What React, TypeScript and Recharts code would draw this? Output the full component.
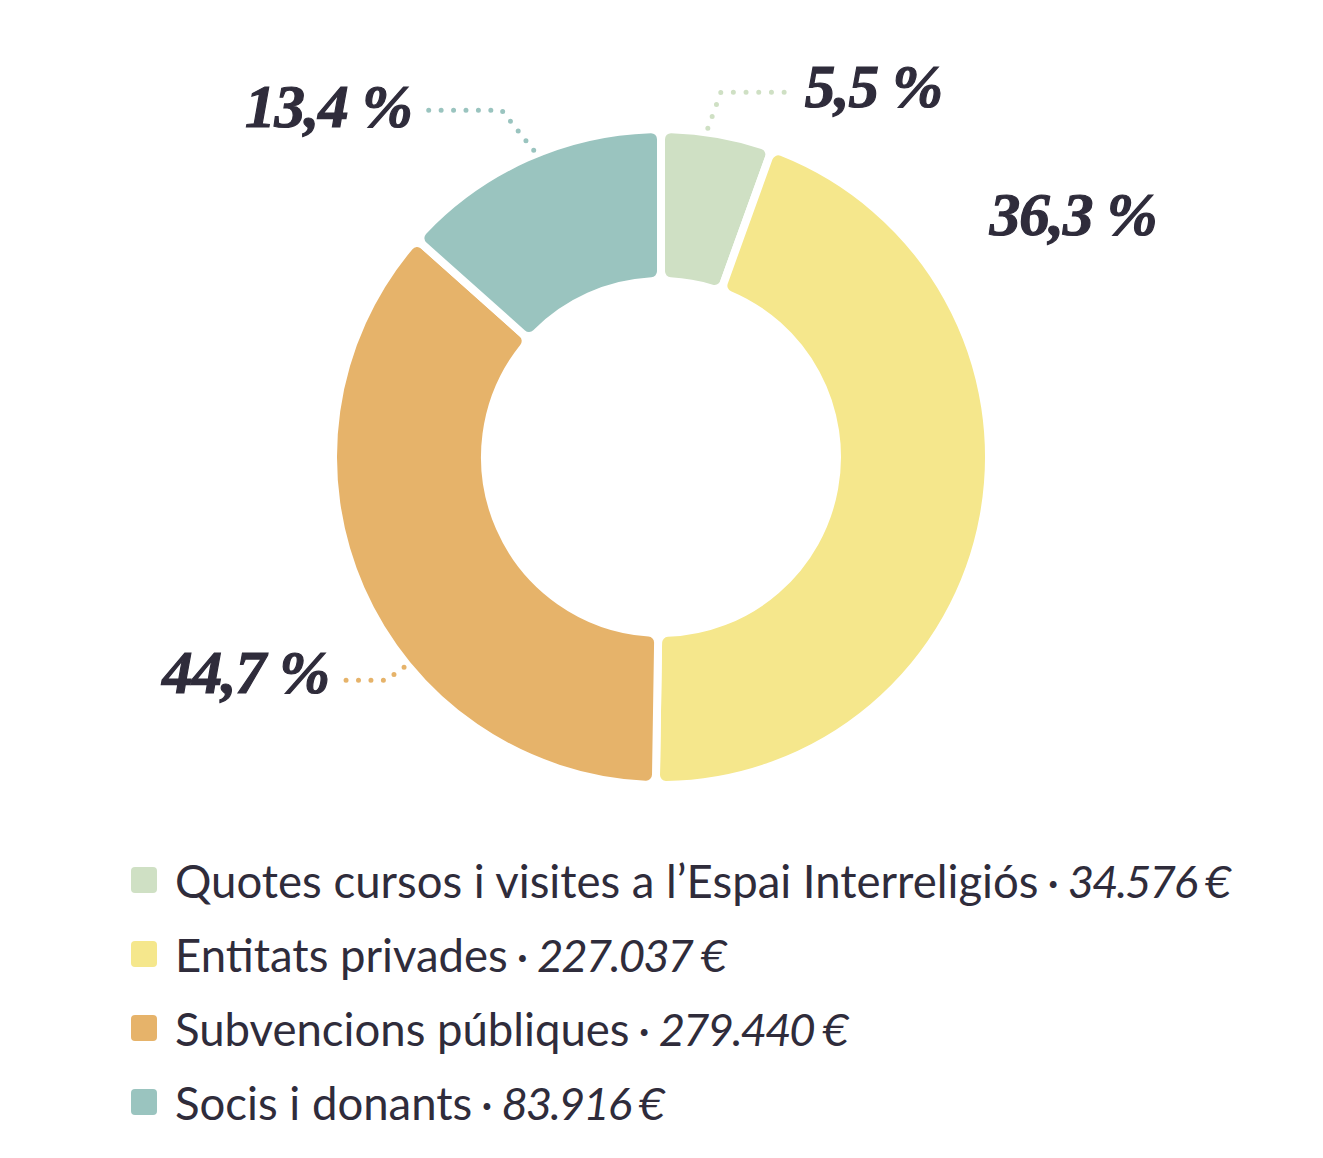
import { Cell, Legend, Pie, PieChart } from "recharts";

const categories = [
  "Quotes cursos i visites a l’Espai Interreligiós",
  "Entitats privades",
  "Subvencions públiques",
  "Socis i donants",
];
const amountLabels = ["34.576 €", "227.037 €", "279.440 €", "83.916 €"];
const percentLabels = ["5,5 %", "36,3 %", "44,7 %", "13,4 %"];
// arc sizes as drawn in the picture (yellow arc is the larger one there)
const arcShares = [5.5, 44.7, 36.3, 13.4];
const colors = ["#cfe0c4", "#f5e78c", "#e6b36a", "#9ac4bf"];

const TEXT = "#2f2c3b";
const RAD = Math.PI / 180;

// leader line layout per slice (relative to the point on the ring edge)
const leaders = [
  { nudge: 1.8, elbow: [13, -36], run: 76, textDx: 8, textDy: 15, anchor: "start", line: true },
  { nudge: 0, elbow: [0, 0], run: 0, textDx: 10, textDy: -280, anchor: "start", line: false },
  { nudge: 15.6, elbow: [-18, 13], run: -40, textDx: -17, textDy: 13, anchor: "end", line: true },
  { nudge: -1.6, elbow: [-32, -40], run: -73, textDx: -17, textDy: 17, anchor: "end", line: true },
];

const data = categories.map((name, i) => ({
  name,
  value: arcShares[i],
  amount: amountLabels[i],
  color: colors[i],
}));

const renderLabel = (props: any) => {
  const { cx, cy, midAngle, index } = props;
  const cfg = leaders[index];
  const a = (midAngle + cfg.nudge) * RAD;
  const r = cfg.line ? 332 : 324;
  const sx = cx + r * Math.cos(a);
  const sy = cy - r * Math.sin(a);
  const ex = sx + cfg.elbow[0];
  const ey = sy + cfg.elbow[1];
  const tx = ex + cfg.run;
  const len = Math.hypot(cfg.elbow[0], cfg.elbow[1]) + Math.abs(cfg.run);
  const gap = len / Math.max(1, Math.round(len / 12.5));
  return (
    <g key={`lbl-${index}`}>
      {cfg.line && (
        <path
          d={`M${sx},${sy} L${ex},${ey} L${tx},${ey}`}
          fill="none"
          stroke={colors[index]}
          strokeWidth={5}
          strokeLinecap="round"
          strokeLinejoin="round"
          strokeDasharray={`0 ${gap}`}
        />
      )}
      <text
        x={tx + cfg.textDx}
        y={ey + cfg.textDy}
        textAnchor={cfg.anchor}
        fill={TEXT}
        stroke={TEXT}
        strokeWidth={1.2}
        fontFamily="'Liberation Serif', serif"
        fontWeight="bold"
        fontStyle="italic"
        fontSize={61}
        letterSpacing={-1}
      >
        {percentLabels[index]}
      </text>
    </g>
  );
};

const renderLegend = () => (
  <div style={{ fontFamily: "Lato, sans-serif", color: TEXT, fontSize: 45.5 }}>
    {data.map((d) => (
      <div
        key={d.name}
        style={{ display: "flex", alignItems: "center", height: 74, whiteSpace: "nowrap" }}
      >
        <span
          style={{
            display: "inline-block",
            width: 26,
            height: 26,
            borderRadius: 4,
            background: d.color,
            marginRight: 18,
          }}
        />
        <span>
          {d.name}
          <span style={{ wordSpacing: -3 }}> · </span>
          <i style={{ letterSpacing: -2 }}>{d.amount}</i>
        </span>
      </div>
    ))}
  </div>
);

export default function App() {
  return (
    <div style={{ width: 1323, height: 1158, background: "#fff" }}>
      <style>{"body{margin:0}"}</style>
      <PieChart width={1323} height={1158} margin={{ top: 0, right: 0, bottom: 0, left: 0 }}>
        <Pie
          data={data}
          dataKey="value"
          nameKey="name"
          cx={661}
          cy={457}
          innerRadius={176}
          outerRadius={328}
          startAngle={90}
          endAngle={-270}
          cornerRadius={10}
          stroke="#ffffff"
          strokeWidth={8}
          label={renderLabel}
          labelLine={false}
          isAnimationActive={false}
        >
          {data.map((d, i) => (
            <Cell key={`cell-${i}`} fill={d.color} stroke="#ffffff" strokeWidth={8} />
          ))}
        </Pie>
        <Legend
          content={renderLegend}
          wrapperStyle={{ position: "absolute", top: 843, left: 131, width: "auto" }}
        />
      </PieChart>
    </div>
  );
}
